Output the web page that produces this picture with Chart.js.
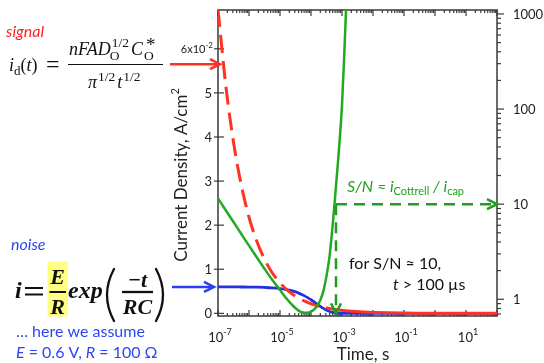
<!DOCTYPE html>
<html><head><meta charset="utf-8">
<script src="https://cdn.jsdelivr.net/npm/chart.js@4.4.1/dist/chart.umd.min.js"></script>
<style>html,body{margin:0;padding:0;background:#fff;}canvas{display:block;}</style>
</head><body>
<canvas id="c" width="544" height="363"></canvas>
<script>
// ---- data ----
const timeS = [1e-7, 1.8e-7, 3.2e-7, 5.6e-7, 1e-6, 1.8e-6, 3.2e-6, 5.6e-6, 1e-5, 1.5e-5, 2e-5, 3e-5, 4e-5, 5e-5, 6e-5, 8e-5, 1e-4, 1.3e-4, 1.6e-4, 2e-4, 2.5e-4, 3e-4, 4e-4, 5e-4, 6e-4, 7e-4, 8e-4, 1e-3, 1.2e-3, 1.4e-3, 1.6e-3, 2e-3, 3e-3, 5e-3, 1e-2, 3e-2, 1e-1, 3e-1, 1, 3, 10, 30, 100];
// Cottrell current density (x10^-2 A/cm^2), red dashed
const cottrell = [6.90, 5.14, 3.86, 2.92, 2.18, 1.63, 1.22, 0.922, 0.690, 0.563, 0.488, 0.398, 0.345, 0.309, 0.282, 0.244, 0.218, 0.191, 0.172, 0.154, 0.138, 0.126, 0.109, 0.098, 0.089, 0.083, 0.077, 0.069, 0.063, 0.058, 0.055, 0.049, 0.040, 0.031, 0.022, 0.013, 0.007, 0.004, 0.002, 0.0013, 0.0007, 0.0004, 0.0002];
// capacitive (charging) current density (x10^-2 A/cm^2), blue
const capacitive = [0.6, 0.6, 0.6, 0.598, 0.596, 0.593, 0.587, 0.578, 0.561, 0.543, 0.525, 0.491, 0.459, 0.430, 0.402, 0.352, 0.308, 0.252, 0.206, 0.158, 0.113, 0.081, 0.042, 0.021, 0.011, 0.006, 0.003, 0.001, 0, 0, 0, 0, 0, 0, 0, 0, 0, 0, 0, 0, 0, 0, 0];
// signal-to-noise ratio (right log axis), green
const snRatio = [11.5, 8.57, 6.45, 4.88, 3.66, 2.75, 2.08, 1.60, 1.25, 1.05, 0.94, 0.82, 0.76, 0.73, 0.72, 0.72, 0.74, 0.79, 0.86, 0.98, 1.22, 1.6, 2.9, 6.0, 12, 22, 38, 110, 420, 1500, null, null, null, null, null, null, null, null, null, null, null, null, null];
const xTickExponents = [-7, -5, -3, -1, 1];
const leftTicks = [0, 1, 2, 3, 4, 5, 6];
const rightTicks = [1, 10, 100, 1000];
const signalArrowLevel = 5.65;
const noiseLevel = 0.6;
const snThreshold = 10;
const tThreshold = 6.4e-4;

const pts = (xs, ys) => xs.map((x, i) => ({x: x, y: ys[i]}));

const C_RED = '#ff3322', C_BLUE = '#2233dd', C_GREEN = '#22aa22', C_GTXT = '#1f9f1f', C_BTXT = '#2c46f0';
const SANS = 'Lato, "Open Sans", sans-serif';
const SERIF = '"Liberation Serif", "DejaVu Serif", serif';

function run(ctx, x, y, parts, color) {
  ctx.fillStyle = color; ctx.textAlign = 'left'; ctx.textBaseline = 'alphabetic';
  for (const p of parts) {
    ctx.font = p[1];
    ctx.fillText(p[0], x, y + (p[2] || 0));
    x += ctx.measureText(p[0]).width;
  }
  return x;
}
function runWidth(ctx, parts) {
  let w = 0;
  for (const p of parts) { ctx.font = p[1]; w += ctx.measureText(p[0]).width; }
  return w;
}
function line(ctx, x1, y1, x2, y2) { ctx.beginPath(); ctx.moveTo(x1, y1); ctx.lineTo(x2, y2); ctx.stroke(); }
function arrow(ctx, x1, y1, x2, y2, color, width, dash, head, half) {
  head = head || 10; half = half || 5;
  const dx = x2 - x1, dy = y2 - y1, L = Math.hypot(dx, dy), ux = dx / L, uy = dy / L;
  ctx.strokeStyle = color; ctx.lineWidth = width; ctx.lineCap = 'butt';
  ctx.setLineDash(dash || []);
  line(ctx, x1, y1, x2 - ux * 2, y2 - uy * 2);
  ctx.setLineDash([]);
  ctx.lineJoin = 'miter';
  ctx.beginPath();
  ctx.moveTo(x2 - ux * head - uy * half, y2 - uy * head + ux * half);
  ctx.lineTo(x2, y2);
  ctx.lineTo(x2 - ux * head + uy * half, y2 - uy * head - ux * half);
  ctx.stroke();
}

const axesPlugin = {
  id: 'axesPlugin',
  beforeDatasetsDraw(chart) {
    const ctx = chart.ctx, ca = chart.chartArea;
    const xs = chart.scales.x, yl = chart.scales.y, yr = chart.scales.y2;
    ctx.save();
    ctx.strokeStyle = '#3a3a3a'; ctx.lineWidth = 1.5;
    ctx.strokeRect(ca.left, ca.top, ca.right - ca.left, ca.bottom - ca.top);
    ctx.lineWidth = 1.2;
    for (let e = -7; e <= 2; e++) {
      for (let m = 1; m <= 9; m++) {
        const v = m * Math.pow(10, e);
        if (v > xs.max * 1.0001) break;
        const px = xs.getPixelForValue(v);
        const len = m === 1 ? 6 : 3;
        line(ctx, px, ca.bottom, px, ca.bottom - len);
        line(ctx, px, ca.top, px, ca.top + len);
      }
    }
    for (const v of leftTicks) {
      const py = yl.getPixelForValue(v);
      line(ctx, ca.left - 4, py, ca.left + 6, py);
    }
    for (let e = -1; e <= 3; e++) {
      for (let m = 1; m <= 9; m++) {
        const v = m * Math.pow(10, e);
        if (v < yr.min || v > yr.max) continue;
        const py = yr.getPixelForValue(v);
        line(ctx, ca.right, py, ca.right + (m === 1 ? 7 : 4), py);
      }
    }
    ctx.fillStyle = '#222';
    for (const e of xTickExponents) {
      const px = xs.getPixelForValue(Math.pow(10, e));
      const parts = [['10', '13px ' + SANS], [String(e), '9px ' + SANS, -7]];
      const w = runWidth(ctx, parts);
      run(ctx, px - w / 2 + 2, 342, parts, '#222');
    }
    for (const v of leftTicks) {
      const py = yl.getPixelForValue(v);
      if (v === 6) {
        const parts = [['6x10', '11px ' + SANS], ['-2', '8px ' + SANS, -5]];
        const w = runWidth(ctx, parts);
        run(ctx, 213 - w, py + 4, parts, '#222');
      } else {
        ctx.font = '13px ' + SANS; ctx.textAlign = 'right'; ctx.textBaseline = 'middle';
        ctx.fillStyle = '#222';
        ctx.fillText(String(v), 212, py + 0.5);
      }
    }
    for (const v of rightTicks) {
      const py = yr.getPixelForValue(v);
      ctx.font = '13px ' + SANS; ctx.textAlign = 'left'; ctx.textBaseline = 'middle';
      ctx.fillStyle = '#222';
      ctx.fillText(String(v), 513, py + 0.5);
    }
    {
      const parts = [['Current Density, A/cm', '17px ' + SANS], ['2', '11px ' + SANS, -8]];
      const w = runWidth(ctx, parts);
      ctx.save(); ctx.translate(187, 175); ctx.rotate(-Math.PI / 2);
      run(ctx, -w / 2, 0, parts, '#222');
      ctx.restore();
      ctx.font = '17px ' + SANS; ctx.textAlign = 'center'; ctx.textBaseline = 'alphabetic';
      ctx.fillStyle = '#222';
      ctx.fillText('Time, s', 363, 360);
    }
    ctx.restore();
  }
};

const annotPlugin = {
  id: 'annotPlugin',
  afterDatasetsDraw(chart) {
    const ctx = chart.ctx, ca = chart.chartArea;
    const xs = chart.scales.x, yl = chart.scales.y, yr = chart.scales.y2;
    ctx.save();
    // ---- signal ----
    run(ctx, 6, 37, [['signal', 'italic 16px ' + SANS]], '#ff2020');
    const SI = 'italic 18px ' + SERIF, SR = '18px ' + SERIF, SS = '13.5px ' + SERIF, SD = '13px ' + SERIF;
    run(ctx, 9, 71, [['i', SI], ['d', SD, 4], ['(', SR], ['t', SI], [')', SR]], '#111');
    run(ctx, 46, 72, [['=', '24px ' + SERIF]], '#111');
    let x = run(ctx, 69, 55, [['nFAD', SI]], '#111');
    ctx.font = SS; let w1 = ctx.measureText('1/2').width;
    run(ctx, x + 1, 55, [['1/2', SS, -8]], '#111');
    run(ctx, x - 1, 55, [['O', SS, 5]], '#111');
    x += w1 + 3;
    x = run(ctx, x, 55, [['C', SI]], '#111');
    run(ctx, x + 3, 55, [['*', '19px ' + SERIF, -4]], '#111');
    run(ctx, x + 1, 55, [['O', SS, 5]], '#111');
    ctx.strokeStyle = '#111'; ctx.lineWidth = 1.2;
    line(ctx, 68, 64.5, 163, 64.5);
    x = run(ctx, 88, 88, [['π', SI]], '#111');
    x = run(ctx, x + 1, 88, [['1/2', SS, -7]], '#111');
    x = run(ctx, x + 2, 88, [['t', SI]], '#111');
    run(ctx, x + 1, 88, [['1/2', SS, -7]], '#111');
    arrow(ctx, 170, yl.getPixelForValue(signalArrowLevel), ca.left + 2, yl.getPixelForValue(signalArrowLevel), '#ff3020', 2.5);

    // ---- noise ----
    run(ctx, 11, 250, [['noise', 'italic 16px ' + SANS]], C_BTXT);
    const BI = 'bold italic 24px ' + SERIF, BI2 = 'bold italic 22px ' + SERIF;
    run(ctx, 15, 298, [['i', BI]], '#111');
    ctx.strokeStyle = '#111'; ctx.lineWidth = 2;
    line(ctx, 25, 288, 43, 288); line(ctx, 25, 294.5, 43, 294.5);
    ctx.fillStyle = '#ffff80'; ctx.fillRect(47.5, 261.5, 20.5, 55);
    ctx.fillStyle = '#111'; ctx.textAlign = 'center'; ctx.textBaseline = 'alphabetic';
    ctx.font = BI2; ctx.fillText('E', 57.7, 284); ctx.fillText('R', 57.7, 314);
    line(ctx, 49.5, 292, 66, 292);
    run(ctx, 68, 298, [['exp', BI]], '#111');
    // parentheses
    ctx.strokeStyle = '#111'; ctx.lineWidth = 2.3; ctx.lineCap = 'round';
    ctx.beginPath(); ctx.moveTo(114, 269); ctx.quadraticCurveTo(100, 295, 114, 321); ctx.stroke();
    ctx.beginPath(); ctx.moveTo(156, 269); ctx.quadraticCurveTo(170, 295, 156, 321); ctx.stroke();
    ctx.lineCap = 'butt';
    ctx.fillStyle = '#111'; ctx.textAlign = 'center'; ctx.font = BI2;
    ctx.fillText('\u2212t', 137.5, 287);
    ctx.fillText('RC', 137.5, 314);
    line(ctx, 122, 292, 153, 292);
    arrow(ctx, 172, yl.getPixelForValue(noiseLevel), 214, yl.getPixelForValue(noiseLevel), '#2a3ff0', 2.5);
    run(ctx, 16, 337, [['\u2026 here we assume', '16px ' + SANS]], C_BTXT);
    run(ctx, 16, 358, [['E', 'italic 16px ' + SANS], [' = 0.6 V, ', '16px ' + SANS], ['R', 'italic 16px ' + SANS], [' = 100 \u03A9', '16px ' + SANS]], C_BTXT);

    // ---- S/N annotations ----
    const cx = xs.getPixelForValue(tThreshold), cy = yr.getPixelForValue(snThreshold);
    arrow(ctx, cx, cy, ca.right, cy, '#1e9e1e', 2.5, [11, 7]);
    arrow(ctx, cx, cy, cx, yl.getPixelForValue(0), '#1e9e1e', 2.5, [11, 7]);
    const GI = 'italic 16px ' + SANS, GS = '11px ' + SANS;
    run(ctx, 347, 192, [['S/N \u2248 ', GI], ['i', GI], ['Cottrell', GS, 3], [' / ', GI], ['i', GI], ['cap', GS, 3]], C_GTXT);
    run(ctx, 349, 269, [['for S/N \u2248 10,', '16px ' + SANS]], '#111');
    run(ctx, 393, 290, [['t', 'italic 16px ' + SANS], [' > 100 \u00B5s', '16px ' + SANS]], '#111');
    ctx.restore();
  }
};

new Chart(document.getElementById('c'), {
  type: 'line',
  data: {
    datasets: [
      {label: 'S/N', data: pts(timeS, snRatio), yAxisID: 'y2', borderColor: C_GREEN, borderWidth: 2.5,
       pointRadius: 0, cubicInterpolationMode: 'monotone', order: 0, clip: 0, spanGaps: false},
      {label: 'Cottrell', data: pts(timeS, cottrell), yAxisID: 'y', borderColor: C_RED, borderWidth: 3,
       borderDash: [18, 8], segment: {borderDash: c => (c.p0.parsed.x >= 3e-4 ? [] : undefined)},
       pointRadius: 0, cubicInterpolationMode: 'monotone', order: 1, clip: 0},
      {label: 'Capacitive', data: pts(timeS, capacitive), yAxisID: 'y', borderColor: C_BLUE, borderWidth: 2.8,
       pointRadius: 0, cubicInterpolationMode: 'monotone', order: 2, clip: 0}
    ]
  },
  options: {
    responsive: false, animation: false, devicePixelRatio: 1,
    layout: {padding: {left: 218, right: 47, top: 10, bottom: 47}},
    plugins: {legend: {display: false}, tooltip: {enabled: false}},
    scales: {
      x: {type: 'logarithmic', min: 1e-7, max: 1e2, display: false},
      y: {type: 'linear', min: -0.06, max: 6.88, display: false},
      y2: {type: 'logarithmic', position: 'right', min: 0.667, max: 1100, display: false}
    }
  },
  plugins: [axesPlugin, annotPlugin]
});
</script>
</body></html>
